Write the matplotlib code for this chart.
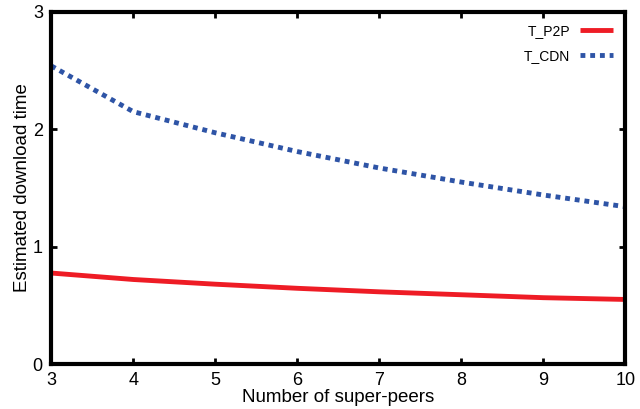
import matplotlib
matplotlib.use("Agg")
from matplotlib import pyplot as plt

plt.rcParams['font.family'] = ['Liberation Sans', 'DejaVu Sans']

peers = [3, 4, 5, 6, 7, 8, 9, 10]
t_p2p = [0.775, 0.72, 0.68, 0.645, 0.615, 0.59, 0.565, 0.55]
t_cdn = [2.54, 2.15, 1.97, 1.81, 1.67, 1.55, 1.44, 1.34]

fig = plt.figure(figsize=(6.4, 4.09), dpi=100)
ax = fig.add_axes([0.080, 0.110, 0.897, 0.861])

ax.plot(peers, t_p2p, color='#ee1c25', lw=3.5, label='T_P2P', solid_capstyle='butt')
ax.plot(peers, t_cdn, color='#2e54a6', lw=3.5, ls=(0, (1, 1)), label='T_CDN')

ax.set_xlim(3, 10)
ax.set_ylim(0, 3)
ax.set_xticks(peers)
ax.set_yticks([0, 1, 2, 3])
ax.tick_params(direction='in', top=True, right=True, length=4, width=2, labelsize=13, pad=6)
for s in ax.spines.values():
    s.set_linewidth(3)
ax.set_xlabel('Number of super-peers', fontsize=13.5, labelpad=0)
ax.set_ylabel('Estimated download time', fontsize=13.5, labelpad=1)

leg = ax.legend(loc='upper right', frameon=False, markerfirst=False, fontsize=10,
                handlelength=2.4, handletextpad=0.7, borderaxespad=0.45, labelspacing=0.8)

fig.savefig('out.png', dpi=100)
